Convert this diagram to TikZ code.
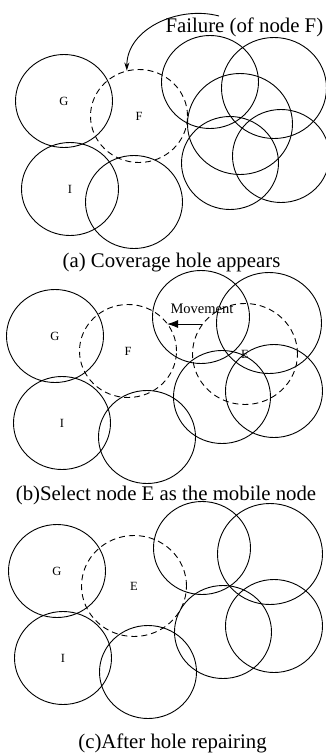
\documentclass[tikz,border=0pt]{standalone}
\usepackage{fontspec}
\setmainfont{Liberation Serif}
\usetikzlibrary{shapes.geometric,arrows.meta}

\begin{document}
\begin{tikzpicture}[x=1pt,y=1pt,
        disc/.style={draw,ellipse,line width=0.9pt,inner sep=0pt,
            minimum width=97pt,minimum height=93pt,
            font=\fontsize{12.5}{14}\selectfont},
        big/.style={minimum width=105pt,minimum height=101pt},
        hole/.style={dash pattern=on 6pt off 4pt},
        caption/.style={anchor=base,font=\fontsize{20.8}{24}\selectfont}]
    \useasboundingbox (0,0) rectangle (325,-753);

    % (a)
    \node[disc] (Ga) at (64,-101) {G};
    \node[disc,hole] (Fa) at (139,-116) {F};
    \node[disc] (Ia) at (70,-189) {I};
    \node[disc] (Ba) at (134,-202) {};
    \node[disc] (R1a) at (210,-82) {};
    \node[disc,big] (R2a) at (274,-88) {};
    \node[disc,big] (R3a) at (240,-124) {};
    \node[disc] (R4a) at (230,-163) {};
    \node[disc] (R5a) at (281,-156) {};
    \node[anchor=base west,font=\fontsize{20.8}{24}\selectfont] (fail) at (162,-32) {Failure (of node F)};
    \coordinate (failtail) at (219,-16);
    \draw[line width=0.9pt,-{Stealth[length=8pt,width=5pt]}] (failtail) to[out=165,in=90] (Fa.105);
    \node[caption] (capa) at (171.5,-267) {(a) Coverage hole appears};

    % (b)
    \node[disc] (Gb) at (55,-336) {G};
    \node[disc,hole] (Fb) at (128,-351) {F};
    \node[disc] (Ib) at (62,-423) {I};
    \node[disc] (Bb) at (147,-437) {};
    \node[disc] (R1b) at (201,-317) {};
    \node[disc,big] (R2b) at (269,-323) {};
    \node[disc,big,hole] (Eb) at (245,-354) {E};
    \node[disc] (R3b) at (222,-397) {};
    \node[disc] (R4b) at (274,-391) {};
    \node[anchor=base west,font=\fontsize{14.5}{17}\selectfont] (move) at (167,-313) {Movement};
    \draw[line width=0.9pt,-{Latex[length=11pt,width=8pt]}] (Eb.145) -- (Eb.145 -| Fb.36);
    \node[caption] (capb) at (166,-500) {(b)Select node E as the mobile node};

    % (c)
    \node[disc] (Gc) at (57,-571) {G};
    \node[disc,big,hole] (Ec) at (134,-586) {E};
    \node[disc] (Ic) at (63,-658) {I};
    \node[disc] (Bc) at (148,-672) {};
    \node[disc] (R1c) at (202,-548) {};
    \node[disc,big] (R2c) at (270,-554) {};
    \node[disc] (R3c) at (223,-632) {};
    \node[disc] (R4c) at (274,-626) {};
    \node[caption] (capc) at (172.5,-748) {(c)After hole repairing};
\end{tikzpicture}
\end{document}
